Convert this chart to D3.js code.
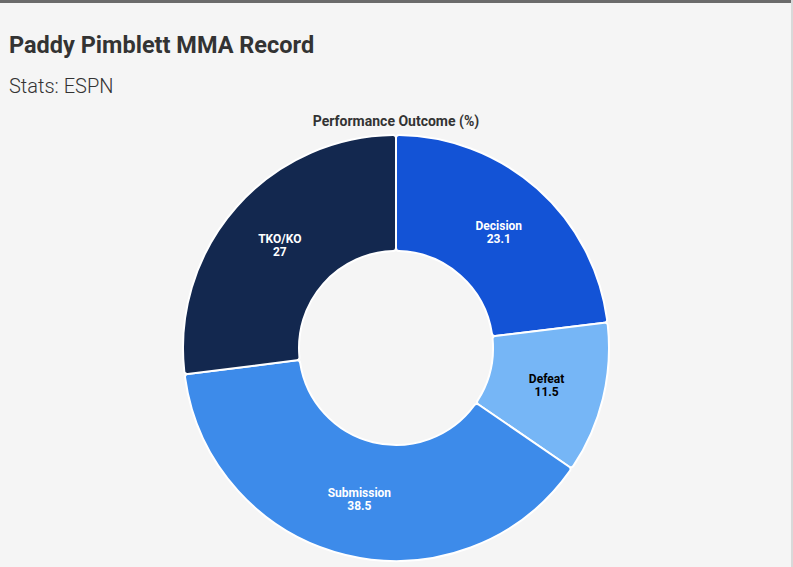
<!DOCTYPE html>
<html>
<head>
<meta charset="utf-8">
<script src="https://cdn.jsdelivr.net/npm/d3@7"></script>
<style>
  html, body { margin: 0; padding: 0; }
  body { width: 793px; height: 567px; background: #f5f5f5; font-family: Roboto, "Noto Sans", sans-serif; overflow: hidden; }
  #topbar { height: 3px; background: #6b6b6b; }
  #right { position: absolute; top: 0; right: 0; width: 2px; height: 567px; background: #d9d9d9; }
  h1 { position: absolute; left: 9px; top: 31px; margin: 0; font-size: 23.5px; font-weight: 700; color: #333; }
  .sub { position: absolute; left: 9px; top: 74px; font-size: 20px; font-weight: 300; color: #333; }
  svg { position: absolute; left: 0; top: 0; }
</style>
</head>
<body>
<div id="topbar"></div>
<div id="right"></div>
<h1>Paddy Pimblett MMA Record</h1>
<div class="sub">Stats: ESPN</div>
<svg id="chart" width="793" height="567"></svg>
<script>
const categories = ['Decision', 'Defeat', 'Submission', 'TKO/KO'];
const values = [23.1, 11.5, 38.5, 27];
const colors = ['#1353d6', '#76b6f6', '#3d8bea', '#13284f'];
const labelColors = ['#fff', '#000', '#fff', '#fff'];

const svg = d3.select('#chart');
const cx = 396, cy = 348, outerR = 213, innerR = 97;

svg.append('text')
  .attr('x', cx).attr('y', 126)
  .attr('text-anchor', 'middle')
  .attr('font-size', 14).attr('font-weight', 700).attr('fill', '#333')
  .text('Performance Outcome (%)');

const pie = d3.pie().sort(null).value(d => d);
const arc = d3.arc().innerRadius(innerR).outerRadius(outerR).cornerRadius(3);
const arcs = pie(values);

const g = svg.append('g').attr('transform', `translate(${cx},${cy})`);

g.selectAll('path')
  .data(arcs)
  .enter().append('path')
  .attr('d', arc)
  .attr('fill', (d, i) => colors[i])
  .attr('stroke', '#fff')
  .attr('stroke-width', 2);

// two-line labels at the slice centroids
const labelArc = d3.arc().innerRadius(innerR).outerRadius(outerR);
const lbl = g.selectAll('g.lbl')
  .data(arcs)
  .enter().append('g')
  .attr('class', 'lbl')
  .attr('transform', d => `translate(${labelArc.centroid(d)})`)
  .attr('text-anchor', 'middle')
  .attr('font-size', 12).attr('font-weight', 700)
  .attr('fill', (d, i) => labelColors[i]);
lbl.append('text').attr('y', -2).text((d, i) => categories[i]);
lbl.append('text').attr('y', 11).text(d => d.data);
</script>
</body>
</html>
